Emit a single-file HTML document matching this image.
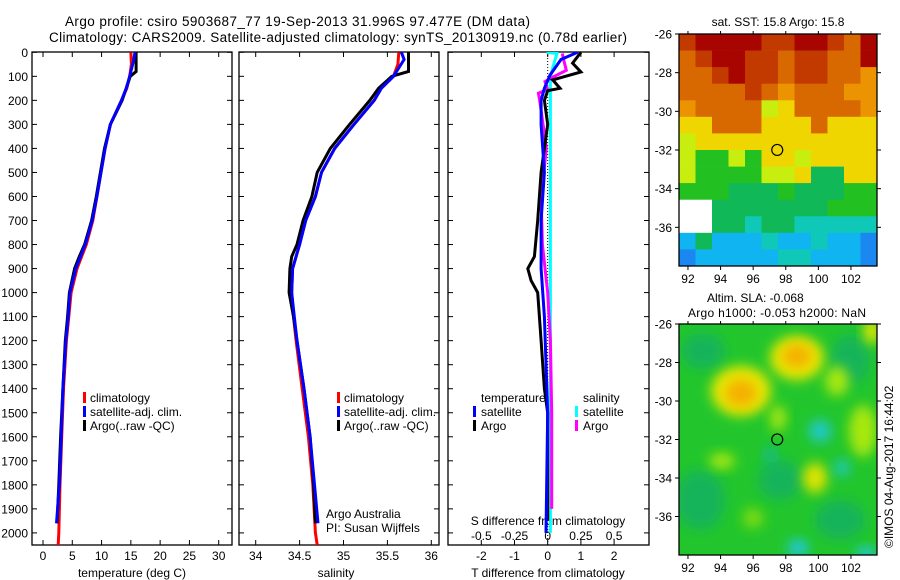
<!DOCTYPE html>
<html><head><meta charset="utf-8"><style>
html,body{margin:0;padding:0;background:#fff;}
svg{display:block;font-family:"Liberation Sans",Arial,sans-serif;}
</style></head><body>
<svg id="fig" width="900" height="580" viewBox="0 0 900 580" xmlns="http://www.w3.org/2000/svg">
<defs>
<filter id="blur6" x="-50%" y="-50%" width="200%" height="200%"><feGaussianBlur stdDeviation="6"/></filter>
<clipPath id="clipMap2"><rect x="679" y="324" width="198" height="231"/></clipPath>
<clipPath id="clipP1"><rect x="32" y="52" width="200" height="493"/></clipPath>
<clipPath id="clipP2"><rect x="239" y="52" width="200" height="493"/></clipPath>
<clipPath id="clipP3"><rect x="448" y="52" width="201" height="493"/></clipPath>
</defs>
<text x="65" y="26" font-size="13.5" textLength="465">Argo profile: csiro 5903687_77 19-Sep-2013 31.996S 97.477E (DM data)</text>
<text x="49" y="42" font-size="13.5" textLength="578">Climatology: CARS2009. Satellite-adjusted climatology: synTS_20130919.nc (0.78d earlier)</text>
<g id="g1"></g>
<g id="g2"></g>
<g id="g3"></g>
<g id="map1"></g>
<g id="map2"></g>
<text transform="translate(893,548) rotate(-90)" font-size="12">©IMOS 04-Aug-2017 16:44:02</text>
</svg>
<script>
// ---- profile data (depth in dbar) ----
const climDepth = [0,50,100,150,200,300,400,500,600,700,800,900,1000,1100,1200,1400,1600,1800,2000,2050];
const climTemp  = [15.0,15.1,14.8,14.3,13.4,11.5,10.6,9.9,9.2,8.5,7.4,5.8,4.8,4.4,4.0,3.5,3.2,2.9,2.7,2.6];
const climSal   = [35.63,35.62,35.57,35.43,35.35,35.12,34.9,34.75,34.68,34.57,34.5,34.42,34.41,34.43,34.46,34.53,34.6,34.65,34.68,34.7];
const argoDepth = [0,80,100,150,200,300,400,500,600,700,800,850,900,1000,1100,1200,1400,1600,1800,1960];
const argoTemp  = [15.9,15.9,14.9,14.2,13.5,11.5,10.5,9.8,9.1,8.3,7.1,6.2,5.4,4.5,4.2,3.8,3.4,3.0,2.7,2.4];
const argoSal   = [35.74,35.74,35.55,35.4,35.3,35.07,34.85,34.7,34.64,34.54,34.47,34.41,34.39,34.38,34.43,34.47,34.55,34.62,34.66,34.68];
const satDepth  = [0,30,100,150,200,300,400,500,600,700,800,900,1000,1100,1200,1400,1600,1800,1960];
const satTemp   = [15.7,15.5,14.8,14.2,13.4,11.5,10.6,9.9,9.2,8.4,7.2,5.6,4.6,4.3,3.9,3.4,3.1,2.8,2.3];
const satSal    = [35.66,35.69,35.57,35.43,35.35,35.12,34.9,34.75,34.68,34.57,34.5,34.42,34.41,34.44,34.47,34.55,34.62,34.67,34.71];
// differences
const dTDepth   = [0,30,95,150,200,300,500,700,900,1100,1500,2000];
const dTsat     = [0.9,0.4,0.07,-0.1,-0.2,-0.2,-0.1,-0.2,-0.2,-0.1,0,-0.05];
const dTargoDepth = [0,45,82,115,150,160,200,300,500,700,850,900,950,1000,1200,1400,1500,1800,1950];
const dTargo    = [1.0,0.75,1.0,0.15,0.37,0,-0.1,0,-0.2,-0.3,-0.4,-0.6,-0.5,-0.3,-0.2,-0.1,0,0,0];
const dSargoDepth = [5,30,75,103,122,155,170,200,400,600,800,1000,1200,1500,1700,1900];
const dSargo    = [0.11,0.12,0.14,0.04,-0.02,0,-0.07,-0.06,-0.01,-0.05,-0.04,0,0.02,0.03,0.03,0.03];
const dSsatDepth = [0,5,60,105,200,500,1000,1500,2000];
const dSsat     = [-0.01,0.07,0.04,0.02,0.02,0.02,0.02,0.02,0.02];
const depthTicks = [0,100,200,300,400,500,600,700,800,900,1000,1100,1200,1300,1400,1500,1600,1700,1800,1900,2000];
const tempTicks = [0,5,10,15,20,25,30];
const salTicks = [34,34.5,35,35.5,36];
const salTickLabels = ["34","34.5","35","35.5","36"];
const dTTicks = [-2,-1,0,1,2];
const dSTicks = [-0.5,-0.25,0,0.25,0.5];
const dSTickLabels = ["-0.5","-0.25","0","0.25","0.5"];

const NS="http://www.w3.org/2000/svg";
function mk(tag,attrs,parent){const e=document.createElementNS(NS,tag);for(const k in attrs)e.setAttribute(k,attrs[k]);parent.appendChild(e);return e;}
const yD = d => 52.3 + d*0.2403;
const xT = t => 43 + t*5.857;
const xS = s => 255.7 + (s-34)*87.8;
const xDT = t => 547.7 + t*33.2;
const xDS = s => 547.7 + s*132.8;

function frame(g,x0,x1,name){
  const r=mk('rect',{x:x0,y:52,width:x1-x0,height:493,fill:'none',stroke:'#000','stroke-width':1.3},g);
  
  
  depthTicks.forEach(d=>{
    mk('line',{x1:x0,x2:x0+5,y1:yD(d),y2:yD(d),stroke:'#000'},g);
    mk('line',{x1:x1,x2:x1-5,y1:yD(d),y2:yD(d),stroke:'#000'},g);
  });
}
function xticks(g,vals,labels,fx,y,name){
  vals.forEach((v,i)=>{
    const x=fx(v);
    mk('line',{x1:x,x2:x,y1:52,y2:57,stroke:'#000'},g);
    mk('line',{x1:x,x2:x,y1:545,y2:540,stroke:'#000'},g);
    const t=mk('text',{x:x,y:y,'font-size':12,'text-anchor':'middle'},g);
    t.textContent=labels[i];
    
    
  });
}
function line(g,xs,ds,fx,color,name,clip,w){
  const pts=xs.map((v,i)=>fx(v).toFixed(1)+','+yD(ds[i]).toFixed(1)).join(' ');
  const p=mk('polyline',{points:pts,fill:'none',stroke:color,'stroke-width':w||3,'stroke-linejoin':'miter','clip-path':clip},g);
  
  
}
function txt(g,x,y,s,name,anchor){const t=mk('text',{x:x,y:y,'font-size':12,'text-anchor':anchor||'start'},g);t.textContent=s;
  
  return t;}
function legendBar(g,x,y,color){mk('rect',{x:x,y:y-10,width:3,height:11,fill:color},g);}

// panel 1
const g1=document.getElementById('g1');
frame(g1,32,232,'temperature-panel');
depthTicks.forEach(d=>{txt(g1,28,yD(d)+4.5,String(d),'depth-tick-label','end');});
xticks(g1,tempTicks,tempTicks.map(String),xT,560,'temperature-axis');
txt(g1,132,577,'temperature (deg C)','temperature-axis-title','middle');
line(g1,climTemp,climDepth,xT,'#f00','clim-temperature-line','url(#clipP1)');
line(g1,argoTemp,argoDepth,xT,'#000','argo-temperature-line','url(#clipP1)');
line(g1,satTemp,satDepth,xT,'#00f','satellite-temperature-line','url(#clipP1)');
[['climatology','#f00',402],['satellite-adj. clim.','#00f',416],['Argo(..raw -QC)','#000',430]].forEach(l=>{legendBar(g1,83,l[2],l[1]);txt(g1,90,l[2],l[0],'temperature-legend-entry');});

// panel 2
const g2=document.getElementById('g2');
frame(g2,239,439,'salinity-panel');
xticks(g2,salTicks,salTickLabels,xS,560,'salinity-axis');
txt(g2,336,577,'salinity','salinity-axis-title','middle');
line(g2,climSal,climDepth,xS,'#f00','clim-salinity-line','url(#clipP2)');
line(g2,argoSal,argoDepth,xS,'#000','argo-salinity-line','url(#clipP2)');
line(g2,satSal,satDepth,xS,'#00f','satellite-salinity-line','url(#clipP2)');
[['climatology','#f00',402],['satellite-adj. clim.','#00f',416],['Argo(..raw -QC)','#000',430]].forEach(l=>{legendBar(g2,337,l[2],l[1]);txt(g2,344,l[2],l[0],'salinity-legend-entry');});
txt(g2,326,518,'Argo Australia','credit-text');
txt(g2,326,532,'PI: Susan Wijffels','pi-text');

// panel 3
const g3=document.getElementById('g3');
frame(g3,448,649,'difference-panel');
mk('line',{x1:xDT(0),x2:xDT(0),y1:52,y2:545,stroke:'#000','stroke-dasharray':'1,2','stroke-width':1},g3);
dTTicks.forEach((v)=>{const x=xDT(v);mk('line',{x1:x,x2:x,y1:52,y2:57,stroke:'#000'},g3);mk('line',{x1:x,x2:x,y1:545,y2:540,stroke:'#000'},g3);
  txt(g3,x,560,String(v),'t-diff-tick-label','middle');});
dSTicks.forEach((v,i)=>{txt(g3,xDS(v),540,dSTickLabels[i],'s-diff-tick-label','middle');});
txt(g3,548,525,'S difference from climatology','s-diff-axis-title','middle');
txt(g3,548,577,'T difference from climatology','t-diff-axis-title','middle');
line(g3,dSsat,dSsatDepth,xDS,'#0ff','satellite-salinity-diff-line','url(#clipP3)');
line(g3,dSargo,dSargoDepth,xDS,'#f0f','argo-salinity-diff-line','url(#clipP3)');
line(g3,dTargo,dTargoDepth,xDT,'#000','argo-temperature-diff-line','url(#clipP3)');
line(g3,dTsat,dTDepth,xDT,'#00f','satellite-temperature-diff-line','url(#clipP3)');
txt(g3,481,402,'temperature','diff-legend-heading');
txt(g3,583,402,'salinity','diff-legend-heading');
legendBar(g3,473,416,'#00f');txt(g3,481,416,'satellite','diff-legend-entry');
legendBar(g3,473,430,'#000');txt(g3,481,430,'Argo','diff-legend-entry');
legendBar(g3,575,416,'#0ff');txt(g3,583,416,'satellite','diff-legend-entry');
legendBar(g3,575,430,'#f0f');txt(g3,583,430,'Argo','diff-legend-entry');

// ---- maps ----
const lonTicks=[92,94,96,98,100,102];
const latTicks=[-26,-28,-30,-32,-34,-36];
function mapAxes(g,top,bottom){
  const lx=v=>679+(v-91.45)*16.3;
  const ly=v=>top+(-26-v)*((bottom-top)/12);
  const r=mk('rect',{x:679,y:top,width:198,height:bottom-top,fill:'none',stroke:'#000','stroke-width':1.3},g);
  
  
  lonTicks.forEach(v=>{const x=lx(v);mk('line',{x1:x,x2:x,y1:bottom,y2:bottom+4,stroke:'#000'},g);mk('line',{x1:x,x2:x,y1:top,y2:top-3,stroke:'#000'},g);txt(g,x,bottom+17,String(v),'longitude-tick-label','middle');});
  latTicks.forEach(v=>{const y=ly(v);mk('line',{x1:679,x2:675,y1:y,y2:y,stroke:'#000'},g);mk('line',{x1:877,x2:881,y1:y,y2:y,stroke:'#000'},g);txt(g,672,y+4.5,String(v),'latitude-tick-label','end');});
  const c=mk('ellipse',{cx:lx(97.477),cy:ly(-31.996),rx:5.5,ry:5.5,fill:'none',stroke:'#000','stroke-width':1.2},g);
  
  
}
// SST raster (coarse)
const sstRows=["rRRRRrrRRrOR","OrRRrrOrrOOR","OOrRrrOrrOOo","OOOOrOoOOOoo","oOOOOyYOOOOo","YYOOOYYYOYYY","yYYYYYYYYYYY","yGGyGYYyYYYY","yGGGGyyYTTYY","GGGTTTGTTTGG","WWTTTTTTTGGG","WWTTCTTCCCCC","BTBBBCBBCBBb","bBBBBBCCBBBb"];
const pal={R:'#a80400',r:'#c33a00',O:'#d86800',o:'#eb9300',Y:'#f0d600',y:'#c8ee10',G:'#22c020',g:'#80e000',T:'#10b858',C:'#10c8b8',B:'#10b4f0',b:'#1a88f0',W:'#ffffff'};
const m1=document.getElementById('map1');
sstRows.forEach((row,j)=>{[...row].forEach((ch,i)=>{mk('rect',{x:(679+i*16.5).toFixed(1),y:(34+j*16.57).toFixed(1),width:16.8,height:16.9,fill:pal[ch]},m1);});});
txt(m1,778,26,'sat. SST: 15.8 Argo: 15.8','sst-map-title','middle');
mapAxes(m1,34,266);
// SLA map
const m2=document.getElementById('map2');
const sl=mk('g',{'clip-path':'url(#clipMap2)'},m2);
mk('rect',{x:679,y:324,width:198,height:231,fill:'#22c62c'},sl);
const blobs=[[703,351,22,18,'#14b45a'],[850,360,20,25,'#14b45a'],[700,500,25,30,'#14b45a'],[780,480,22,20,'#14b45a'],[840,520,25,20,'#14b45a'],
 [741,391,30,25,'#e8e800'],[797,358,27,22,'#e8e800'],[741,393,16,14,'#f5b000'],[797,356,15,12,'#f5b000'],
 [837,381,12,15,'#a8e810'],[778,418,8,13,'#a8e810'],[815,478,12,15,'#e0e400'],[722,461,13,8,'#a8e810'],[863,431,14,26,'#a8e810'],[872,331,8,13,'#e8e800'],[753,518,10,10,'#80dc10'],
 [820,431,11,11,'#20c8d0'],[842,468,8,8,'#20c8c0'],[798,548,10,8,'#20c8f0'],[866,553,10,6,'#20c8f0'],[770,455,6,8,'#18b8a0']];
blobs.forEach(b=>{mk('ellipse',{cx:b[0],cy:b[1],rx:b[2],ry:b[3],fill:b[4],filter:'url(#blur6)'},sl);});
const st1=txt(m2,707,302,'Altim. SLA: -0.068','sla-map-title','start');
const st2=txt(m2,688,317,'Argo h1000: -0.053 h2000: NaN','sla-map-subtitle','start');
st2.setAttribute('textLength','178');
mapAxes(m2,324,555);
</script>
</body></html>
